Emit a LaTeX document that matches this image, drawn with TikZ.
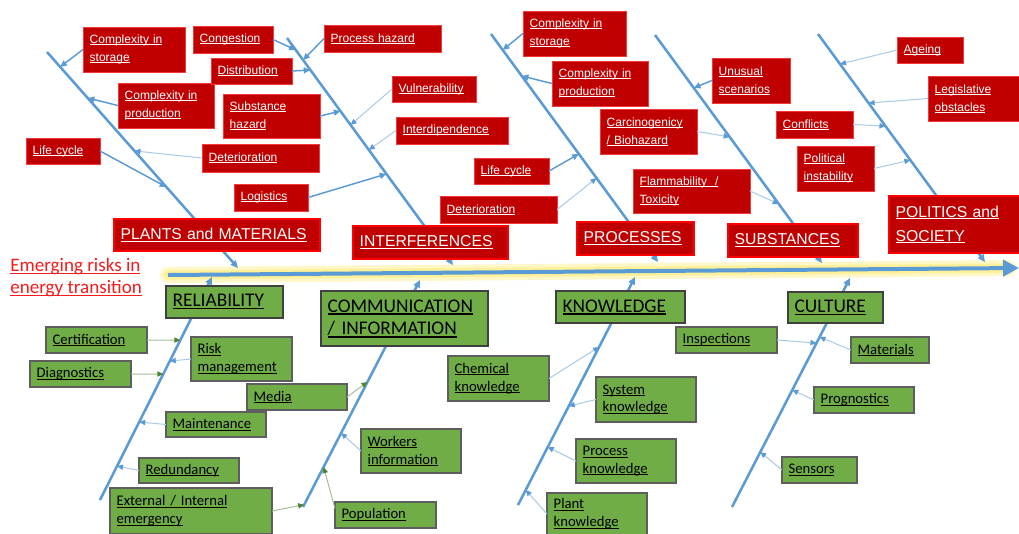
\documentclass[tikz,border=0pt]{standalone}
\usepackage{fontspec}
\setmainfont{Liberation Sans}
\newfontfamily\calfont{Carlito}
\usetikzlibrary{arrows.meta,calc}
\definecolor{dred}{HTML}{C00000}
\definecolor{bred}{HTML}{FF0000}
\definecolor{lred}{HTML}{F23A3A}
\definecolor{grn}{HTML}{70AD47}
\definecolor{gbd}{HTML}{5E5E5E}
\definecolor{gbdk}{HTML}{404040}
\definecolor{blu}{HTML}{5B9BD5}
\definecolor{lblu}{HTML}{A8CBEA}
\definecolor{lgrn}{HTML}{A5BE92}
\definecolor{dgrn}{HTML}{548235}
\definecolor{glow}{HTML}{FFF09A}
\definecolor{ered}{HTML}{F51C1C}
\newsavebox\ulbox
\newcommand\ul[1]{\leavevmode\sbox\ulbox{#1}\rlap{\rule[-0.13em]{\wd\ulbox}{0.065em}}\usebox\ulbox}
\newcommand\bx[7]{%
  \pgfmathsetlengthmacro\bxw{(#5-#3)*0.75pt-10pt}%
  \pgfmathsetlengthmacro\bxh{(#6-#4)*0.75pt}%
  \node[#1,anchor=west,text width=\bxw,minimum height=\bxh,inner xsep=5pt,inner ysep=0pt,outer sep=0pt,align=left] (#2) at (#3,{(#4+#6)/2}) {#7};}
\begin{document}
\begin{tikzpicture}[x=0.75pt,y=-0.75pt,
 rbox/.style={fill=dred,draw=lred,line width=0.6pt,text=white,font=\fontsize{9}{13.5}\selectfont},
 rcat/.style={fill=dred,draw=bred,line width=1.8pt,text=white,font=\fontsize{11.8}{18}\selectfont},
 gbox/.style={fill=grn,draw=gbd,line width=1.1pt,text=black,font=\calfont\fontsize{11}{13.3}\selectfont},
 gcat/.style={fill=grn,draw=gbdk,line width=1.8pt,text=black,font=\calfont\fontsize{14.5}{17.2}\selectfont},
 bone/.style={draw=blu,line width=1.9pt,-{Triangle[length=5.5pt,width=5pt]}},
 spine/.style={draw=blu,line width=3pt,-{Triangle[length=12pt,width=12pt]}},
 cthick/.style={draw=blu,line width=1.1pt,-{Triangle[length=5pt,width=4.5pt]}},
 cthin/.style={draw=lblu,line width=0.75pt,-{Triangle[length=4.5pt,width=4pt,color=blu]}},
 cgrn/.style={draw=lgrn,line width=0.75pt,-{Triangle[length=4.5pt,width=4pt,color=dgrn]}},
]
\useasboundingbox (0,0) rectangle (1019,533);
\clip (0,0) rectangle (1019,533);
\fill[white] (0,0) rectangle (1019,533);

% spine
\coordinate (Sa) at (168,275);
\coordinate (Sb) at (1019,268);
\coordinate (Sg) at (1008,268.1);
\draw[glow!55,line width=12pt,line cap=round] (Sa) -- (Sg);
\draw[glow,line width=7pt,line cap=round] (Sa) -- (Sg);
\draw[spine] (Sa) -- (Sb);

% bones
\coordinate (Ps) at (47,52);   \coordinate (Pe) at (238,268);
\coordinate (Is) at (287,38);  \coordinate (Ie) at (453,265);
\coordinate (Rs) at (491,34);  \coordinate (Re) at (658,262);
\coordinate (Us) at (655,35);  \coordinate (Ue) at (822,263);
\coordinate (Ts) at (818,34);  \coordinate (Te) at (985,262);
\coordinate (As) at (100,500); \coordinate (Ae) at (212,277);
\coordinate (Cs) at (303,507); \coordinate (Ce) at (420,280);
\coordinate (Ks) at (518,505); \coordinate (Ke) at (635,277);
\coordinate (Ls) at (732,507); \coordinate (Le) at (850,278);
\foreach \s/\e in {Ps/Pe,Is/Ie,Rs/Re,Us/Ue,Ts/Te,As/Ae,Cs/Ce,Ks/Ke,Ls/Le}
  \draw[bone] (\s) -- (\e);

% title
\node[anchor=north west,inner sep=0pt,align=left,text=ered,font=\calfont\fontsize{14.3}{16.5}\selectfont] (title) at (10,258) {\ul{Emerging risks in}\\\ul{energy transition}};

% red category boxes
\bx{rcat}{cP}{114}{219}{320}{251}{\ul{PLANTS and MATERIALS}}
\bx{rcat}{cI}{353}{226}{508}{259}{\ul{INTERFERENCES}}
\bx{rcat}{cR}{577}{222}{694}{255}{\ul{PROCESSES}}
\bx{rcat}{cS}{728}{224}{858}{257}{\ul{SUBSTANCES}}
\bx{rcat}{cT}{889}{196}{1024}{253}{\ul{POLITICS and}\\\ul{SOCIETY}}

% red small boxes
\bx{rbox}{ps}{83}{27}{185}{72}{\ul{Complexity in}\\\ul{storage}}
\bx{rbox}{pp}{118}{83}{214}{128}{\ul{Complexity in}\\\ul{production}}
\bx{rbox}{plc}{26}{138}{100}{164}{\ul{Life cycle}}
\bx{rbox}{pdet}{202}{144}{319}{172}{\ul{Deterioration}}
\bx{rbox}{icg}{193}{26}{273}{53}{\ul{Congestion}}
\bx{rbox}{iph}{324}{25}{441}{52}{\ul{Process hazard}}
\bx{rbox}{idi}{211}{58}{292}{84}{\ul{Distribution}}
\bx{rbox}{ish}{223}{94}{320}{138}{\ul{Substance}\\\ul{hazard}}
\bx{rbox}{ivu}{392}{76}{476}{102}{\ul{Vulnerability}}
\bx{rbox}{iin}{396}{117}{508}{144}{\ul{Interdipendence}}
\bx{rbox}{ilo}{234}{184}{308}{211}{\ul{Logistics}}
\bx{rbox}{rs}{523}{11}{626}{56}{\ul{Complexity in}\\\ul{storage}}
\bx{rbox}{rp}{552}{61}{648}{106}{\ul{Complexity in}\\\ul{production}}
\bx{rbox}{rlc}{474}{158}{549}{184}{\ul{Life cycle}}
\bx{rbox}{rdet}{440}{196}{557}{223}{\ul{Deterioration}}
\bx{rbox}{su}{712}{58}{790}{103}{\ul{Unusual}\\\ul{scenarios}}
\bx{rbox}{sc}{600}{109}{697}{154}{\ul{Carcinogenicy}\\\ul{/ Biohazard}}
\bx{rbox}{sf}{633}{169}{750}{213}{\ul{Flammability\ \ /}\\\ul{Toxicity}}
\bx{rbox}{ta}{897}{37}{963}{63}{\ul{Ageing}}
\bx{rbox}{tl}{928}{76}{1024}{121}{\ul{Legislative}\\\ul{obstacles}}
\bx{rbox}{tc}{776}{111}{853}{138}{\ul{Conflicts}}
\bx{rbox}{tp}{797}{146}{874}{191}{\ul{Political}\\\ul{instability}}

% green category boxes
\bx{gcat}{gR}{166}{286}{283}{318}{\ul{RELIABILITY}}
\bx{gcat}{gC}{321}{291}{488}{346}{\ul{COMMUNICATION}\\\ul{/ INFORMATION}}
\bx{gcat}{gK}{556}{291}{685}{323}{\ul{KNOWLEDGE}}
\bx{gcat}{gU}{788}{292}{883}{323}{\ul{CULTURE}}

% green small boxes
\bx{gbox}{gce}{46}{327}{147}{353}{\ul{Certification}}
\bx{gbox}{gdi}{30}{361}{131}{387}{\ul{Diagnostics}}
\bx{gbox}{grm}{191}{337}{292}{381}{\ul{Risk}\\\ul{management}}
\bx{gbox}{gma}{166}{412}{266}{437}{\ul{Maintenance}}
\bx{gbox}{gre}{139}{458}{239}{483}{\ul{Redundancy}}
\bx{gbox}{gex}{110}{488}{272}{534}{\ul{External / Internal}\\\ul{emergency}}
\bx{gbox}{gme}{247}{384}{347}{410}{\ul{Media}}
\bx{gbox}{gwo}{361}{429}{461}{473}{\ul{Workers}\\\ul{information}}
\bx{gbox}{gpo}{335}{502}{436}{528}{\ul{Population}}
\bx{gbox}{gch}{448}{356}{549}{401}{\ul{Chemical}\\\ul{knowledge}}
\bx{gbox}{gsy}{596}{377}{696}{422}{\ul{System}\\\ul{knowledge}}
\bx{gbox}{gpr}{576}{439}{676}{483}{\ul{Process}\\\ul{knowledge}}
\bx{gbox}{gpl}{547}{493}{647}{535}{\ul{Plant}\\\ul{knowledge}}
\bx{gbox}{gin}{676}{327}{777}{353}{\ul{Inspections}}
\bx{gbox}{gmt}{851}{337}{929}{363}{\ul{Materials}}
\bx{gbox}{gpg}{814}{387}{914}{413}{\ul{Prognostics}}
\bx{gbox}{gse}{782}{457}{857}{483}{\ul{Sensors}}

% targets on bones
\coordinate (tps) at ($(Ps)!0.069!(Pe)$);
\coordinate (tpp) at ($(Ps)!0.213!(Pe)$);
\coordinate (tpdet) at ($(Ps)!0.458!(Pe)$);
\coordinate (tplc) at ($(Ps)!0.625!(Pe)$);
\coordinate (ticg) at ($(Is)!0.053!(Ie)$);
\coordinate (tiph) at ($(Is)!0.097!(Ie)$);
\coordinate (tidi) at ($(Is)!0.141!(Ie)$);
\coordinate (tish) at ($(Is)!0.322!(Ie)$);
\coordinate (tivu) at ($(Is)!0.383!(Ie)$);
\coordinate (tiin) at ($(Is)!0.493!(Ie)$);
\coordinate (tilo) at ($(Is)!0.599!(Ie)$);
\coordinate (trs) at ($(Rs)!0.070!(Re)$);
\coordinate (trp) at ($(Rs)!0.184!(Re)$);
\coordinate (trlc) at ($(Rs)!0.526!(Re)$);
\coordinate (trdet) at ($(Rs)!0.632!(Re)$);
\coordinate (tsu) at ($(Us)!0.232!(Ue)$);
\coordinate (tsc) at ($(Us)!0.447!(Ue)$);
\coordinate (tsf) at ($(Us)!0.741!(Ue)$);
\coordinate (tta) at ($(Ts)!0.132!(Te)$);
\coordinate (ttl) at ($(Ts)!0.303!(Te)$);
\coordinate (ttc) at ($(Ts)!0.404!(Te)$);
\coordinate (ttp) at ($(Ts)!0.553!(Te)$);
\coordinate (tgce) at ($(As)!0.717!(Ae)$);
\coordinate (tgrm) at ($(As)!0.623!(Ae)$);
\coordinate (tgdi) at ($(As)!0.565!(Ae)$);
\coordinate (tgma) at ($(As)!0.350!(Ae)$);
\coordinate (tgre) at ($(As)!0.152!(Ae)$);
\coordinate (tgex) at ($(Cs)!0.01!(Ce)$);
\coordinate (tgme) at ($(Cs)!0.551!(Ce)$);
\coordinate (tgwo) at ($(Cs)!0.326!(Ce)$);
\coordinate (tgpo) at ($(Cs)!0.176!(Ce)$);
\coordinate (tgch) at ($(Ks)!0.693!(Ke)$);
\coordinate (tgsy) at ($(Ks)!0.434!(Ke)$);
\coordinate (tgpr) at ($(Ks)!0.254!(Ke)$);
\coordinate (tgpl) at ($(Ks)!0.066!(Ke)$);
\coordinate (tgmt) at ($(Ls)!0.742!(Le)$);
\coordinate (tgin) at ($(Ls)!0.716!(Le)$);
\coordinate (tgpg) at ($(Ls)!0.511!(Le)$);
\coordinate (tgse) at ($(Ls)!0.240!(Le)$);

% connectors (top)
\draw[cthick] (ps.west) -- (tps);
\draw[cthick] (pp.west) -- (tpp);
\draw[cthin] (pdet.west) -- (tpdet);
\draw[cthick] (plc.east) -- (tplc);
\draw[cthick] (icg.east) -- (ticg);
\draw[cthick] (iph.west) -- (tiph);
\draw[cthick] (idi.east) -- (tidi);
\draw[cthick] (ish.east) -- (tish);
\draw[cthin] (ivu.west) -- (tivu);
\draw[cthin] (iin.west) -- (tiin);
\draw[cthick] (ilo.east) -- (tilo);
\draw[cthick] (rs.west) -- (trs);
\draw[cthick] (rp.west) -- (trp);
\draw[cthick] (rlc.east) -- (trlc);
\draw[cthin] (rdet.east) -- (trdet);
\draw[cthick] (su.west) -- (tsu);
\draw[cthin] (sc.east) -- (tsc);
\draw[cthin] (sf.east) -- (tsf);
\draw[cthin] (ta.west) -- (tta);
\draw[cthin] (tl.west) -- (ttl);
\draw[cthin] (tc.east) -- (ttc);
\draw[cthin] (tp.east) -- (ttp);
% connectors (bottom)
\draw[cgrn] (gce.east) -- (tgce);
\draw[cthin] (grm.west) -- (tgrm);
\draw[cgrn] (gdi.east) -- (tgdi);
\draw[cthin] (gma.west) -- (tgma);
\draw[cthin] (gre.west) -- (tgre);
\draw[cgrn] (gex.east) -- (tgex);
\draw[cgrn] (gme.east) -- (tgme);
\draw[cthin] (gwo.west) -- (tgwo);
\draw[cgrn] ($(gpo.north west)!0.25!(gpo.south west)$) -- (tgpo);
\draw[cthin] (gch.east) -- (tgch);
\draw[cthin] (gsy.west) -- (tgsy);
\draw[cthin] (gpr.west) -- (tgpr);
\draw[cthin] (gpl.west) -- (tgpl);
\draw[cthin] (gin.east) -- (tgin);
\draw[cthin] (gmt.west) -- (tgmt);
\draw[cthin] (gpg.west) -- (tgpg);
\draw[cthin] (gse.west) -- (tgse);
\end{tikzpicture}
\end{document}
